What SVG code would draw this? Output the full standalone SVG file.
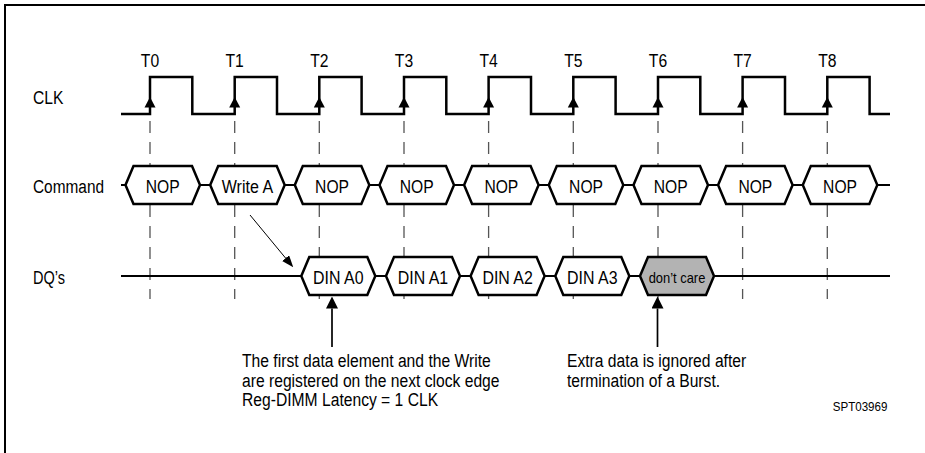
<svg xmlns="http://www.w3.org/2000/svg" width="925" height="453" viewBox="0 0 925 453">
<style>
  text { font-family: "Liberation Sans", Arial, sans-serif; fill: #000; }
  .lbl { font-size: 18px; }
  .tl { font-size: 18px; text-anchor: middle; }
  .box { fill: #fff; stroke: #000; stroke-width: 2.5; stroke-linejoin: miter; }
  .dc { fill: #b3b3b3; stroke: #000; stroke-width: 2.5; }
  .bt { font-size: 18px; text-anchor: middle; }
  .dct { font-size: 15px; text-anchor: middle; }
  .bus { stroke: #000; stroke-width: 2.2; fill: none; }
  .guide { stroke: #555; stroke-width: 1.3; stroke-dasharray: 12 9; fill: none; }
  .note { font-size: 18px; }
</style>
<defs>
  <polygon id="edgeArrow" points="0,0 -5.5,10.5 5.5,10.5" fill="#000"/>
  <marker id="headBig" markerUnits="userSpaceOnUse" markerWidth="12" markerHeight="12" refX="0" refY="6" orient="auto">
    <path d="M0,0 L12,6 L0,12 z" fill="#000"/>
  </marker>
  <marker id="headSmall" markerUnits="userSpaceOnUse" markerWidth="12" markerHeight="10" refX="0" refY="4.5" orient="auto">
    <path d="M0,0 L12,4.5 L0,9 z" fill="#000"/>
  </marker>
</defs>

<rect width="925" height="453" fill="#fff"/>
<g id="frame" stroke="#000" stroke-width="2" fill="none">
  <path d="M5,453 V5 H925"/>
</g>

<g id="signal-labels">
  <text class="lbl" x="33" y="104" textLength="30.4" lengthAdjust="spacingAndGlyphs">CLK</text>
  <text class="lbl" x="33" y="193" textLength="71" lengthAdjust="spacingAndGlyphs">Command</text>
  <text class="lbl" x="33" y="284" textLength="32" lengthAdjust="spacingAndGlyphs">DQ’s</text>
</g>

<g id="guides">
  <path class="guide" d="M150,121 V299 M234.7,121 V299 M319.3,121 V299 M404,121 V299 M488.6,121 V299 M573.3,121 V299 M658,121 V299 M742.6,121 V299 M827.3,121 V299"/>
</g>

<g id="clock">
  <path d="M121,114 H150 V77 H192.3 V114 H234.7 V77 H277 V114 H319.3 V77 H361.6 V114 H404 V77 H446.3 V114 H488.6 V77 H531 V114 H573.3 V77 H615.6 V114 H658 V77 H700.3 V114 H742.6 V77 H785 V114 H827.3 V77 H869.6 V114 H890" fill="none" stroke="#000" stroke-width="2.5"/>
  <use href="#edgeArrow" x="150" y="97"/>
  <use href="#edgeArrow" x="234.7" y="97"/>
  <use href="#edgeArrow" x="319.3" y="97"/>
  <use href="#edgeArrow" x="404" y="97"/>
  <use href="#edgeArrow" x="488.6" y="97"/>
  <use href="#edgeArrow" x="573.3" y="97"/>
  <use href="#edgeArrow" x="658" y="97"/>
  <use href="#edgeArrow" x="742.6" y="97"/>
  <use href="#edgeArrow" x="827.3" y="97"/>
  <text class="tl" x="150" y="67" textLength="18.3" lengthAdjust="spacingAndGlyphs">T0</text>
  <text class="tl" x="234.7" y="67" textLength="18.3" lengthAdjust="spacingAndGlyphs">T1</text>
  <text class="tl" x="319.3" y="67" textLength="18.3" lengthAdjust="spacingAndGlyphs">T2</text>
  <text class="tl" x="404" y="67" textLength="18.3" lengthAdjust="spacingAndGlyphs">T3</text>
  <text class="tl" x="488.6" y="67" textLength="18.3" lengthAdjust="spacingAndGlyphs">T4</text>
  <text class="tl" x="573.3" y="67" textLength="18.3" lengthAdjust="spacingAndGlyphs">T5</text>
  <text class="tl" x="658" y="67" textLength="18.3" lengthAdjust="spacingAndGlyphs">T6</text>
  <text class="tl" x="742.6" y="67" textLength="18.3" lengthAdjust="spacingAndGlyphs">T7</text>
  <text class="tl" x="827.3" y="67" textLength="18.3" lengthAdjust="spacingAndGlyphs">T8</text>
</g>

<g id="command-bus">
  <path class="bus" d="M121,185 H890"/>
</g>
<g id="cmd-t0"><polygon class="box" points="125.5,185 133.5,166 192,166 200,185 192,204 133.5,204"/><text class="bt" x="162.75" y="193" textLength="33.9" lengthAdjust="spacingAndGlyphs">NOP</text></g>
<g id="cmd-t1"><polygon class="box" points="210.2,185 218.2,166 276.7,166 284.7,185 276.7,204 218.2,204"/><text class="bt" x="247.45" y="193" textLength="51.3" lengthAdjust="spacingAndGlyphs">Write A</text></g>
<g id="cmd-t2"><polygon class="box" points="294.8,185 302.8,166 361.3,166 369.3,185 361.3,204 302.8,204"/><text class="bt" x="332.05" y="193" textLength="33.9" lengthAdjust="spacingAndGlyphs">NOP</text></g>
<g id="cmd-t3"><polygon class="box" points="379.5,185 387.5,166 446,166 454,185 446,204 387.5,204"/><text class="bt" x="416.75" y="193" textLength="33.9" lengthAdjust="spacingAndGlyphs">NOP</text></g>
<g id="cmd-t4"><polygon class="box" points="464.1,185 472.1,166 530.6,166 538.6,185 530.6,204 472.1,204"/><text class="bt" x="501.35" y="193" textLength="33.9" lengthAdjust="spacingAndGlyphs">NOP</text></g>
<g id="cmd-t5"><polygon class="box" points="548.8,185 556.8,166 615.3,166 623.3,185 615.3,204 556.8,204"/><text class="bt" x="586.05" y="193" textLength="33.9" lengthAdjust="spacingAndGlyphs">NOP</text></g>
<g id="cmd-t6"><polygon class="box" points="633.5,185 641.5,166 700,166 708,185 700,204 641.5,204"/><text class="bt" x="670.75" y="193" textLength="33.9" lengthAdjust="spacingAndGlyphs">NOP</text></g>
<g id="cmd-t7"><polygon class="box" points="718.1,185 726.1,166 784.6,166 792.6,185 784.6,204 726.1,204"/><text class="bt" x="755.35" y="193" textLength="33.9" lengthAdjust="spacingAndGlyphs">NOP</text></g>
<g id="cmd-t8"><polygon class="box" points="802.8,185 810.8,166 869.3,166 877.3,185 869.3,204 810.8,204"/><text class="bt" x="840.05" y="193" textLength="33.9" lengthAdjust="spacingAndGlyphs">NOP</text></g>

<g id="dq-bus">
  <path class="bus" d="M121,276 H890"/>
</g>
<g id="dq-a0"><polygon class="box" points="301.3,276 309.3,257 367.3,257 375.3,276 367.3,295 309.3,295"/><text class="bt" x="338.3" y="284" textLength="50.4" lengthAdjust="spacingAndGlyphs">DIN A0</text></g>
<g id="dq-a1"><polygon class="box" points="386,276 394,257 452,257 460,276 452,295 394,295"/><text class="bt" x="423" y="284" textLength="50.4" lengthAdjust="spacingAndGlyphs">DIN A1</text></g>
<g id="dq-a2"><polygon class="box" points="470.6,276 478.6,257 536.6,257 544.6,276 536.6,295 478.6,295"/><text class="bt" x="507.6" y="284" textLength="50.4" lengthAdjust="spacingAndGlyphs">DIN A2</text></g>
<g id="dq-a3"><polygon class="box" points="555.3,276 563.3,257 621.3,257 629.3,276 621.3,295 563.3,295"/><text class="bt" x="592.3" y="284" textLength="50.4" lengthAdjust="spacingAndGlyphs">DIN A3</text></g>
<g id="dq-dontcare"><polygon class="dc" points="640,276 648,257 706,257 714,276 706,295 648,295"/><text class="dct" x="677" y="283" textLength="56.7" lengthAdjust="spacingAndGlyphs">don’t care</text></g>

<g id="connectors" fill="none" stroke="#000">
  <line x1="250" y1="215" x2="285.6" y2="258.1" stroke-width="1" marker-end="url(#headSmall)"/>
  <line x1="332" y1="347" x2="332" y2="308.5" stroke-width="1.7" marker-end="url(#headBig)"/>
  <line x1="657.5" y1="347" x2="657.5" y2="308.5" stroke-width="1.7" marker-end="url(#headBig)"/>
</g>

<g id="notes">
  <text class="note" x="242" y="367" textLength="248.8" lengthAdjust="spacingAndGlyphs">The first data element and the Write</text>
  <text class="note" x="242" y="387" textLength="257.5" lengthAdjust="spacingAndGlyphs">are registered on the next clock edge</text>
  <text class="note" x="242" y="406" textLength="196.1" lengthAdjust="spacingAndGlyphs">Reg-DIMM Latency = 1 CLK</text>
  <text class="note" x="567" y="367" textLength="179.2" lengthAdjust="spacingAndGlyphs">Extra data is ignored after</text>
  <text class="note" x="567" y="387" textLength="153.1" lengthAdjust="spacingAndGlyphs">termination of a Burst.</text>
  <text x="832.7" y="411" font-size="12.5" textLength="54.7" lengthAdjust="spacingAndGlyphs">SPT03969</text>
</g>
</svg>
